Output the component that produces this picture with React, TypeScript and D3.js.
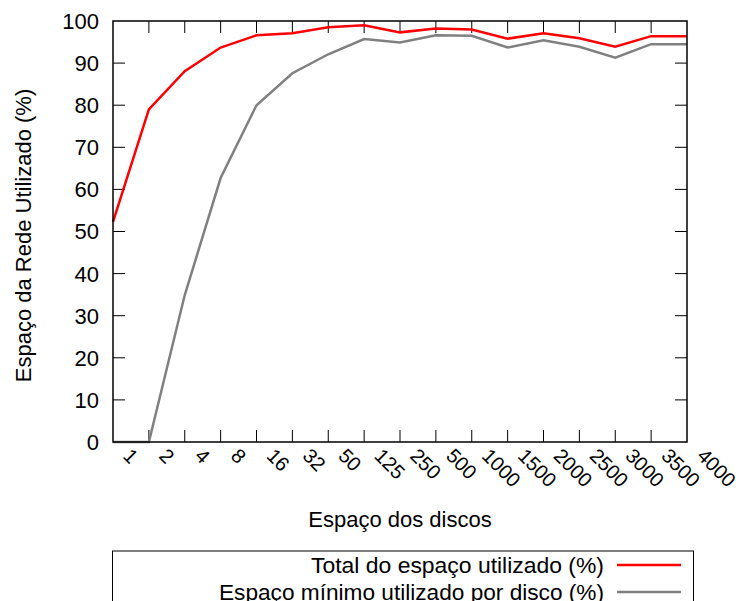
import React from "react";
import * as d3 from "d3";

// x categories (disk space)
const discos = ["1", "2", "4", "8", "16", "32", "50", "125", "250", "500", "1000", "1500", "2000", "2500", "3000", "3500", "4000"];
// total space used (%)
const totalUtilizado = [52.3, 79.0, 88.1, 93.7, 96.6, 97.1, 98.5, 99.0, 97.3, 98.2, 98.0, 95.8, 97.1, 95.9, 93.9, 96.4, 96.4];
// minimum space used per disk (%)
const minimoPorDisco = [0, 0, 34.9, 62.7, 80.0, 87.6, 92.1, 95.7, 94.9, 96.6, 96.5, 93.7, 95.4, 93.9, 91.3, 94.5, 94.5];
const yTicks = [0, 10, 20, 30, 40, 50, 60, 70, 80, 90, 100];

const W = 739, H = 601;
const left = 113, right = 687, top = 21, bottom = 442;
const font = "'Liberation Sans', Arial, Helvetica, sans-serif";

export default function App() {
  const x = d3.scalePoint<string>().domain(discos).range([left, right]);
  const y = d3.scaleLinear().domain([0, 100]).range([bottom, top]);

  const line = d3.line<number>()
    .x((d, i) => x(discos[i]) as number)
    .y((d) => y(d));

  const series = [
    { name: "Total do espaço utilizado (%)", values: totalUtilizado, color: "#ff0000", len: 293 },
    { name: "Espaço mínimo utilizado por disco (%)", values: minimoPorDisco, color: "#808080", len: 385 },
  ];

  const tickLen = 12;

  return (
    <svg width={W} height={H} style={{ position: "absolute", left: 0, top: 0, background: "#fff" }} fontFamily={font}>
      <rect x={0} y={0} width={W} height={H} fill="#fff" />

      {/* y ticks + labels */}
      {yTicks.map((t) => (
        <g key={"y" + t}>
          {t > 0 && t < 100 && (
            <>
              <line x1={left} x2={left + tickLen} y1={y(t)} y2={y(t)} stroke="#000" strokeWidth={1} />
              <line x1={right} x2={right - tickLen} y1={y(t)} y2={y(t)} stroke="#000" strokeWidth={1} />
            </>
          )}
          <text x={99} y={y(t)} dy="0.36em" textAnchor="end" fontSize={22} fill="#000">{t}</text>
        </g>
      ))}

      {/* x ticks + rotated labels */}
      {discos.map((d, i) => {
        const px = x(d) as number;
        return (
          <g key={"x" + d}>
            {i > 0 && i < discos.length - 1 && (
              <>
                <line x1={px} x2={px} y1={bottom} y2={bottom - tickLen} stroke="#000" strokeWidth={1} />
                <line x1={px} x2={px} y1={top} y2={top + tickLen} stroke="#000" strokeWidth={1} />
              </>
            )}
            <text transform={`translate(${px + 9},${bottom + 15}) rotate(45)`} fontSize={20} fill="#000">{d}</text>
          </g>
        );
      })}

      {/* series */}
      {series.slice().reverse().map((s) => (
        <path key={s.name} d={line(s.values) as string} fill="none" stroke={s.color} strokeWidth={2.5} strokeLinejoin="miter" />
      ))}

      {/* frame */}
      <rect x={left} y={top} width={right - left} height={bottom - top} fill="none" stroke="#000" strokeWidth={1.5} />

      {/* axis titles */}
      <text x={400} y={527} textAnchor="middle" fontSize={22} fill="#000">Espaço dos discos</text>
      <text transform={`translate(31,${(top + bottom) / 2 + 4}) rotate(-90)`} textAnchor="middle" fontSize={22} fill="#000">
        Espaço da Rede Utilizado (%)
      </text>

      {/* legend */}
      <rect x={112.5} y={551} width={581} height={80} fill="none" stroke="#000" strokeWidth={1} />
      {series.map((s, i) => {
        const ly = 565 + i * 27;
        return (
          <g key={"lg" + s.name}>
            <text x={604} y={ly} dy="0.35em" textAnchor="end" fontSize={22} fill="#000"
              textLength={s.len} lengthAdjust="spacingAndGlyphs">{s.name}</text>
            <line x1={617} x2={681} y1={ly} y2={ly} stroke={s.color} strokeWidth={2.5} />
          </g>
        );
      })}
    </svg>
  );
}
